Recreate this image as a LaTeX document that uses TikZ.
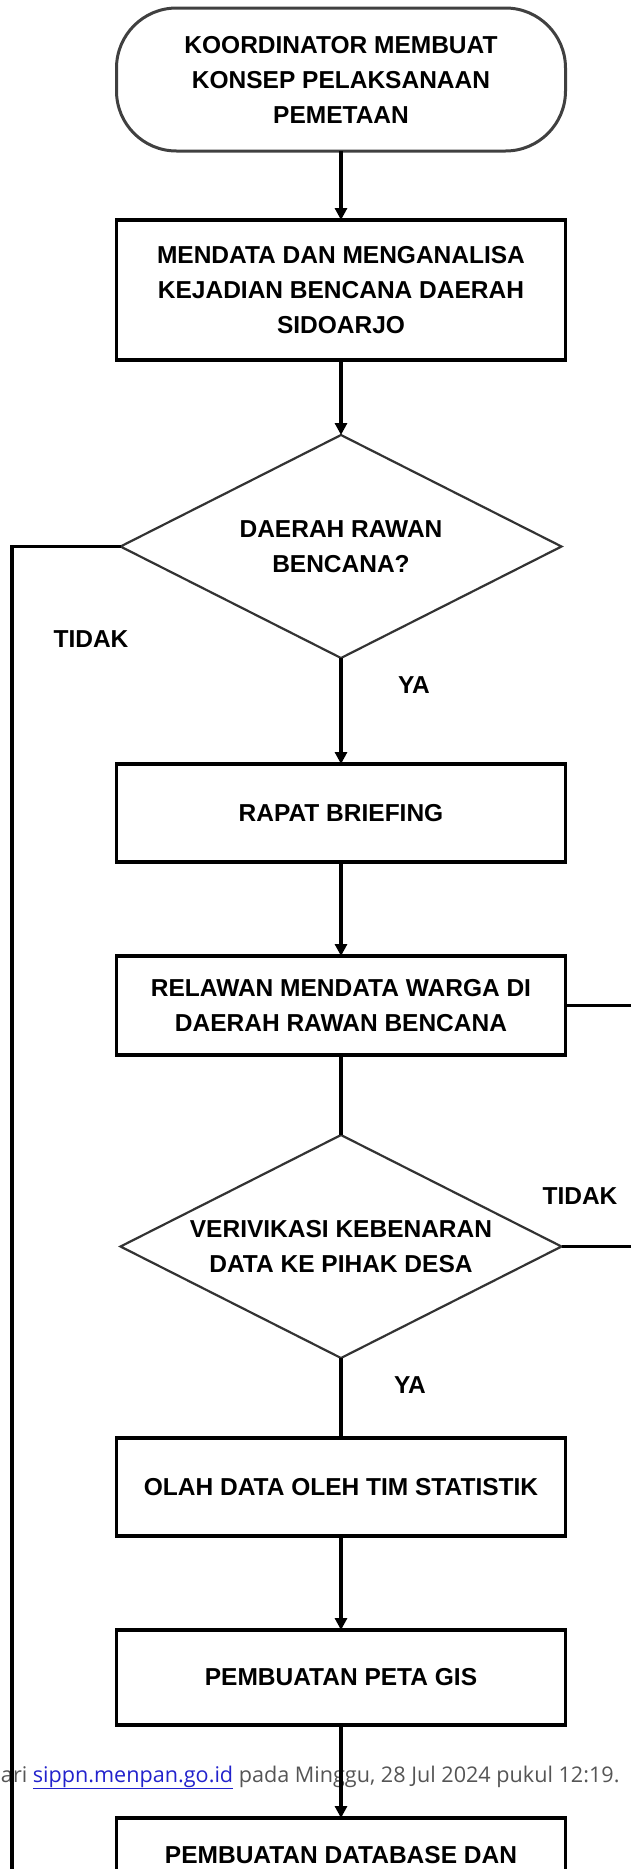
\documentclass[tikz,border=0pt]{standalone}
\usepackage{fontspec}
\usepackage{tikz}
\usetikzlibrary{shapes.geometric,positioning,arrows.meta}
\newfontfamily\bagan{Liberation Sans}
\newfontfamily\catatan{Open Sans}
\definecolor{tautan}{RGB}{34,34,204}
\definecolor{abu}{RGB}{85,85,85}

\begin{document}
\begin{tikzpicture}[x=1pt, y=-1pt,
    every node/.style={outer sep=0pt},
    teks/.style={font=\bagan\bfseries\fontsize{24.5}{35}\selectfont, align=center},
    mulai/.style={teks, draw=black!75, line width=3pt, rounded corners=60pt,
      minimum width=449pt, minimum height=143pt},
    proses/.style={teks, draw, line width=3.3pt, minimum width=449pt, minimum height=98pt},
    putusan/.style={teks, diamond, aspect=2, inner sep=0pt, draw=black!80, line width=2.2pt,
      minimum width=441pt, minimum height=223pt},
    garis/.style={line width=3.3pt},
    panah/.style={garis, -{Triangle[width=12pt,length=12pt]}},
    ket/.style={font=\bagan\bfseries\fontsize{24.5}{30}\selectfont}]

  \useasboundingbox (0,0) rectangle (630,1869);

  %% catatan halaman
  \node[font=\catatan\fontsize{21.6}{24}\selectfont, text=abu, anchor=base west, inner sep=0pt]
    (catatan) at (1,1782)
    {ari \textcolor{tautan}{\underline{sippn.menpan.go.id}} pada Minggu, 28 Jul 2024 pukul 12:19.};

  %% alur utama
  \node[mulai] (mulai) at (341,79.5) {KOORDINATOR MEMBUAT\\KONSEP PELAKSANAAN\\PEMETAAN};
  \node[proses, below=69pt of mulai, minimum height=140pt] (mendata)
    {MENDATA DAN MENGANALISA\\KEJADIAN BENCANA DAERAH\\SIDOARJO};
  \node[putusan, below=75pt of mendata] (rawan) {DAERAH RAWAN\\BENCANA?};
  \node[proses, below=106pt of rawan] (rapat) {RAPAT BRIEFING};
  \node[proses, below=94pt of rapat, minimum height=99pt] (relawan)
    {RELAWAN MENDATA WARGA DI\\DAERAH RAWAN BENCANA};
  \node[putusan, below=80pt of relawan] (verifikasi) {VERIVIKASI KEBENARAN\\DATA KE PIHAK DESA};
  \node[proses, below=80pt of verifikasi] (olah) {OLAH DATA OLEH TIM STATISTIK};
  \node[proses, below=94pt of olah, minimum height=95pt] (peta) {PEMBUATAN PETA GIS};
  \node[proses, below=93pt of peta, minimum height=74pt] (database) {PEMBUATAN DATABASE DAN};

  %% keterangan
  \node[ket] (tidak1) at (91,639) {TIDAK};
  \node[ket] (ya1) at (414,685) {YA};
  \node[ket] (tidak2) at (580,1196) {TIDAK};
  \node[ket] (ya2) at (410,1385) {YA};

  %% garis
  \coordinate (kiri) at (12,1900);
  \coordinate (tepi) at (640,0);
  \draw[panah] (mulai) -- (mendata);
  \draw[panah] (mendata) -- (rawan);
  \draw[panah] (rawan) -- (rapat);
  \draw[panah] (rapat) -- (relawan);
  \draw[garis] (relawan) -- (verifikasi);
  \draw[garis] (verifikasi) -- (olah);
  \draw[panah] (olah) -- (peta);
  \draw[panah] (peta) -- (database);
  \draw[garis] (rawan.west) -| (kiri);
  \draw[garis] (relawan.east) -- (relawan.east -| tepi);
  \draw[garis] (verifikasi.east) -- (verifikasi.east -| tepi);

\end{tikzpicture}
\end{document}
